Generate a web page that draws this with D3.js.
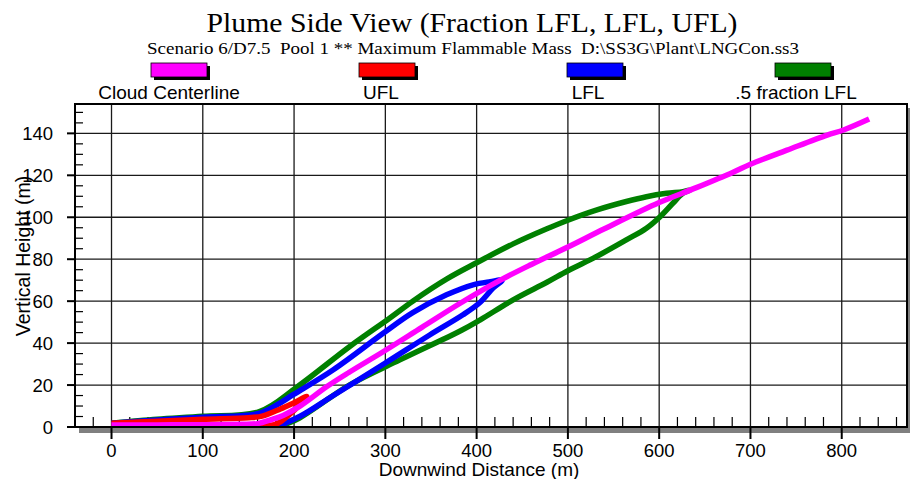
<!DOCTYPE html>
<html><head><meta charset="utf-8">
<script src="https://cdn.jsdelivr.net/npm/d3@7/dist/d3.min.js"></script>
<style>body{margin:0;background:#fff}svg{display:block}</style>
</head><body>
<script>
// ---- data ----
const titleText = "Plume Side View (Fraction LFL, LFL, UFL)";
const subtitleText = "Scenario 6/D7.5  Pool 1 ** Maximum Flammable Mass  D:\\SS3G\\Plant\\LNGCon.ss3";
const seriesNames = ["Cloud Centerline", "UFL", "LFL", ".5 fraction LFL"];
const seriesColors = ["#ff00ff", "#ff0000", "#0000ff", "#008000"];
const xTicks = [0, 100, 200, 300, 400, 500, 600, 700, 800];
const yTicks = [0, 20, 40, 60, 80, 100, 120, 140];

const centerX = [0, 50, 100, 140, 160, 175, 188, 206, 236, 260, 298, 340, 382, 426, 460, 500, 540, 600, 640, 681, 700, 740, 784, 802, 830];
const centerY = [0.9, 1.0, 1.1, 1.3, 1.6, 3.5, 5.5, 9.8, 19.3, 26, 36, 47.5, 59, 70, 77.5, 85.8, 94.5, 107, 114, 121.5, 125.3, 132, 139.2, 141.6, 146.8];

const uflX = [0, 50, 100, 150, 165, 185, 200, 214, 205, 195, 185, 175, 160, 100, 0];
const uflY = [1.8, 2.8, 3.7, 4.4, 5.2, 8.6, 11.6, 14.5, 10, 6, 2.5, 0.8, 0.8, 1.2, 1.0];

const lflX = [0, 50, 100, 160, 181, 199, 243, 298, 330, 367, 396, 415, 428, 418, 404, 385, 349, 300, 243, 206, 181, 160, 100, 0];
const lflY = [1.8, 3.4, 4.7, 6.3, 10.5, 15.4, 27.3, 44.8, 54.5, 63, 67.8, 69.3, 70, 66.2, 59.5, 53.5, 44, 30.5, 15, 5, 0.6, 0.6, 0.6, 0.6];

const fracX = [0, 50, 100, 162, 203, 261, 305, 330, 367, 400, 440, 477, 500, 531, 564, 586, 608, 626, 634, 626, 615, 601, 586, 564, 531, 500, 477, 440, 404, 383, 316, 261, 206, 188, 160, 100, 0];
const fracY = [1.8, 3.7, 5.1, 7.4, 19, 38.4, 52, 60, 70.5, 78.3, 87.3, 94.5, 98.6, 103.4, 107.5, 109.8, 111.4, 112.2, 113, 111.4, 106.7, 100.3, 94.8, 89.2, 81.2, 74.5, 69, 60.6, 51.1, 46, 32, 20.1, 4.3, 1.1, 0.6, 0.6, 0.6];

// ---- layout ----
const W = 910, H = 479;
const L = 75, R = 907, T = 104, B = 427;
const svg = d3.select("body").append("svg").attr("width", W).attr("height", H);
const x = d3.scaleLinear().domain([-40, 871.5]).range([L, R]);
const y = d3.scaleLinear().domain([0, 154]).range([B, T]);

// titles
svg.append("text").attr("x", 472).attr("y", 32).attr("text-anchor", "middle")
  .attr("font-family", "Liberation Serif, Times New Roman, serif").attr("font-size", 26.5)
  .attr("textLength", 531).attr("lengthAdjust", "spacingAndGlyphs").text(titleText);
svg.append("text").attr("x", 473).attr("y", 53.5).attr("text-anchor", "middle")
  .attr("font-family", "Liberation Serif, Times New Roman, serif").attr("font-size", 16.5)
  .style("white-space", "pre")
  .attr("textLength", 652).attr("lengthAdjust", "spacingAndGlyphs").text(subtitleText);

// legend
const legX = [151, 359, 567, 775];
const legLabelX = [169, 381, 588, 796];
const leg = svg.append("g");
seriesNames.forEach((n, i) => {
  leg.append("rect").attr("x", legX[i] + 3).attr("y", 66).attr("width", 56).attr("height", 14).attr("fill", "#000");
  leg.append("rect").attr("x", legX[i]).attr("y", 63).attr("width", 56).attr("height", 14)
    .attr("fill", seriesColors[i]).attr("stroke", "#000").attr("stroke-width", 0.8);
  leg.append("text").attr("x", legLabelX[i]).attr("y", 99).attr("text-anchor", "middle")
    .attr("font-family", "Liberation Sans, Arial, sans-serif").attr("font-size", 19).text(n);
});

// plot background + shadow
svg.append("rect").attr("x", L + 4).attr("y", T + 4).attr("width", R - L + 1).attr("height", B - T + 2).attr("fill", "#808080");
svg.append("rect").attr("x", L).attr("y", T).attr("width", R - L).attr("height", B - T).attr("fill", "#fff");

// grid
const g = svg.append("g");
g.selectAll(".vg").data(xTicks).join("line")
  .attr("x1", d => x(d)).attr("x2", d => x(d)).attr("y1", T).attr("y2", B)
  .attr("stroke", "#1a1a1a").attr("stroke-width", 1.3);
g.selectAll(".hg").data(yTicks.filter(d => d > 0)).join("line")
  .attr("x1", L).attr("x2", R).attr("y1", d => y(d)).attr("y2", d => y(d))
  .attr("stroke", "#1a1a1a").attr("stroke-width", 1.3);

// minor ticks
const xMinor = d3.range(-20, 871, 20).filter(d => d % 100 !== 0);
g.selectAll(".xm").data(xMinor).join("line")
  .attr("x1", d => x(d)).attr("x2", d => x(d)).attr("y1", B).attr("y2", B - 10)
  .attr("stroke", "#000").attr("stroke-width", 1.2);
const yMinor = d3.range(5, 154, 5).filter(d => d % 20 !== 0);
g.selectAll(".ym").data(yMinor).join("line")
  .attr("x1", L).attr("x2", L + 8).attr("y1", d => y(d)).attr("y2", d => y(d))
  .attr("stroke", "#000").attr("stroke-width", 1.2);

// curves
svg.append("clipPath").attr("id", "clip").append("rect").attr("x", L).attr("y", T).attr("width", R - L).attr("height", B - T);
const line = d3.line().x(d => x(d[0])).y(d => y(d[1])).curve(d3.curveCatmullRom.alpha(0.5));
const cg = svg.append("g").attr("clip-path", "url(#clip)");
const series = [
  [fracX, fracY, seriesColors[3]],
  [lflX, lflY, seriesColors[2]],
  [uflX, uflY, seriesColors[1]],
  [centerX, centerY, seriesColors[0]]
];
series.forEach(([xs, ys, c]) => {
  cg.append("path").attr("d", line(xs.map((v, i) => [v, ys[i]])))
    .attr("fill", "none").attr("stroke", c).attr("stroke-width", 5.5)
    .attr("stroke-linejoin", "round");
});

// border
svg.append("rect").attr("x", L).attr("y", T).attr("width", R - L).attr("height", B - T)
  .attr("fill", "none").attr("stroke", "#000").attr("stroke-width", 2);

// major ticks + labels
const font = "Liberation Sans, Arial, sans-serif";
svg.selectAll(".xt").data(xTicks).join("line")
  .attr("x1", d => x(d)).attr("x2", d => x(d)).attr("y1", B).attr("y2", B + 12)
  .attr("stroke", "#000").attr("stroke-width", 2);
svg.selectAll(".xl").data(xTicks).join("text")
  .attr("x", d => x(d)).attr("y", 457).attr("text-anchor", "middle")
  .attr("font-family", font).attr("font-size", 18.5).text(d => d);
svg.selectAll(".yt").data(yTicks).join("line")
  .attr("x1", L - 8).attr("x2", L).attr("y1", d => y(d)).attr("y2", d => y(d))
  .attr("stroke", "#000").attr("stroke-width", 2);
svg.selectAll(".yl").data(yTicks).join("text")
  .attr("x", 53).attr("y", d => y(d) + 6.5).attr("text-anchor", "end")
  .attr("font-family", font).attr("font-size", 18.5).text(d => d);

// axis titles
svg.append("text").attr("x", 479).attr("y", 476).attr("text-anchor", "middle")
  .attr("font-family", font).attr("font-size", 19).text("Downwind Distance (m)");
svg.append("text").attr("transform", "translate(30,256) rotate(-90)").attr("text-anchor", "middle")
  .attr("font-family", font).attr("font-size", 19.5).text("Vertical Height (m)");
</script>
</body></html>
